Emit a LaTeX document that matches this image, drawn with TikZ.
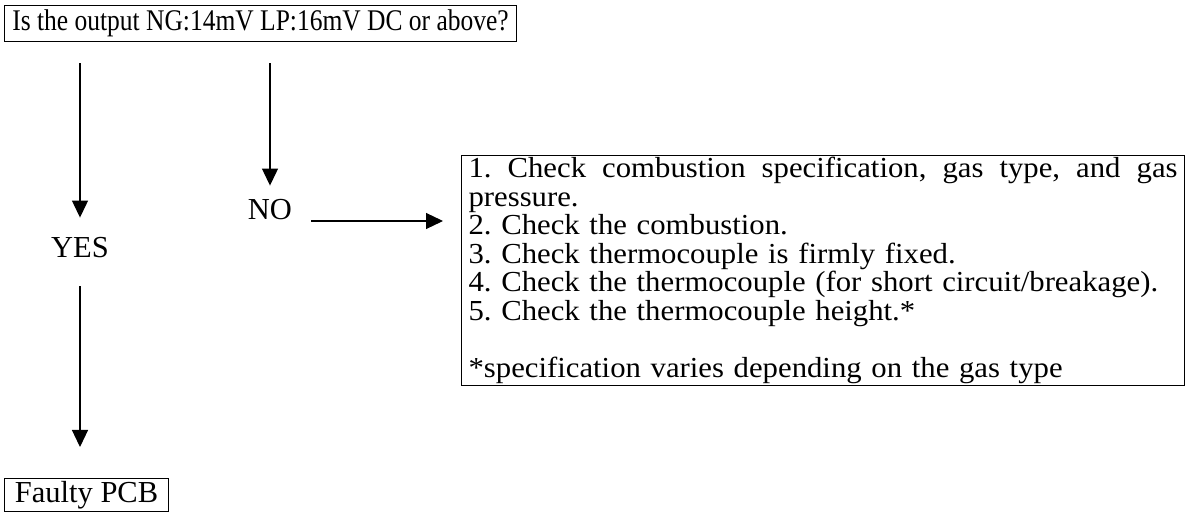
\documentclass[tikz,border=0pt]{standalone}
\usepackage{fontspec}
\setmainfont{Liberation Serif}
\newfontfamily\condfont[FakeStretch=0.85]{Liberation Serif}
\newfontfamily\widefont[FakeStretch=1.06]{Liberation Serif}
\usetikzlibrary{arrows.meta}
\frenchspacing
\newcommand\mytightlines{\lineskiplimit=-50bp\relax}
\begin{document}
\begin{tikzpicture}[x=1bp,y=-1bp,
  txt/.style={font={\fontsize{30.5bp}{28.5bp}\selectfont\mytightlines}},
  box/.style={draw, line width=1.1bp, inner sep=0pt, txt},
  lbl/.style={inner sep=0pt, txt},
  arr/.style={line width=1.2bp, -{Triangle[width=16bp,length=17bp]}},
]
\useasboundingbox (0,0) rectangle (1188,517);
\node[box, minimum width=512bp, minimum height=36bp, anchor=north west,
      font={\condfont\fontsize{30bp}{34bp}\selectfont}] (q) at (4,5)
  {Is the output NG:14mV LP:16mV DC or above?};
\node[lbl] (yes) at (80,248) {YES};
\node[lbl] (no) at (270,210) {NO};
\node[box, minimum width=164bp, minimum height=33bp, anchor=north west] (pcb) at (4,478) {Faulty PCB};
\node[box, anchor=north west, text width=709bp, inner xsep=7bp, inner ysep=2bp, align=left,
      font={\widefont\fontsize{29bp}{28.5bp}\selectfont\mytightlines}] (chk) at (461,155)
  {\makebox[709bp][l]{1.\hfill Check\hfill combustion\hfill specification,\hfill gas\hfill type,\hfill and\hfill gas}\\
   pressure.\\
   2. Check the combustion.\\
   3. Check thermocouple is firmly fixed.\\
   4. Check the thermocouple (for short circuit/breakage).\\
   5. Check the thermocouple height.*\\
   \mbox{}\\{}*specification varies depending on the gas type};
\draw[arr, shorten <=21bp, shorten >=20bp] (q.south -| yes.north) -- (yes.north);
\draw[arr, shorten <=28bp, shorten >=31bp] (yes.south) -- (yes.south |- pcb.north);
\draw[arr, shorten <=21bp, shorten >=14bp] (q.south -| no.north) -- (no.north);
\draw[arr, shorten <=19bp, shorten >=18bp] ([yshift=-11bp]no.east) -- ([yshift=-11bp]no.east -| chk.west);
\end{tikzpicture}
\end{document}
